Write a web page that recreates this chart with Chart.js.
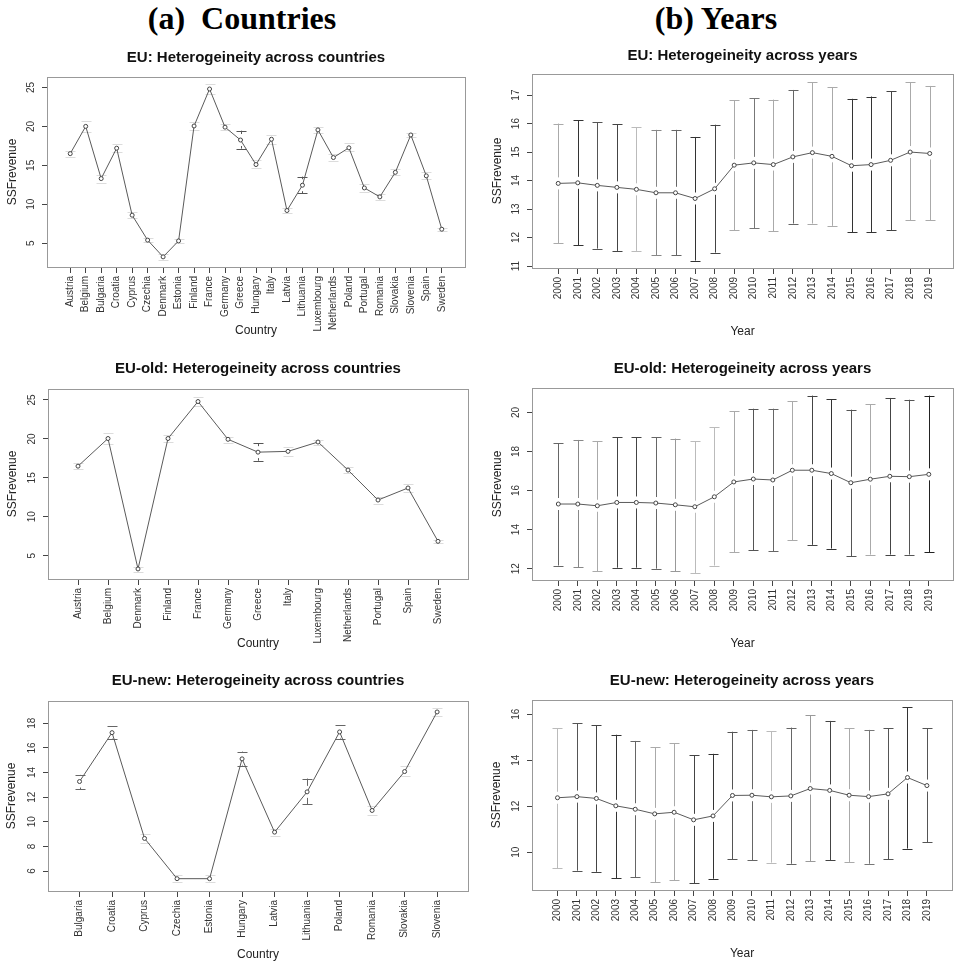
<!DOCTYPE html>
<html lang="en">
<head>
  <meta charset="UTF-8">
  <title>SSFrevenue heterogeneity</title>
  <script src="https://cdn.jsdelivr.net/npm/chart.js"></script>
  <style>
    body {
      margin: 0;
      background: #ffffff;
      width: 958px;
      height: 964px;
      position: relative;
      overflow: hidden;
    }
    .head {
      position: absolute;
      top: -1px;
      width: 300px;
      text-align: center;
      font-family: "Liberation Serif", "Times New Roman", serif;
      font-weight: bold;
      font-size: 32px;
      line-height: 38px;
      color: #000;
      white-space: pre;
    }
    canvas {
      position: absolute;
    }
  </style>
</head>
<body>
  <div class="head" style="left:92px">(a)  Countries</div>
  <div class="head" style="left:566px">(b) Years</div>

  <canvas id="c1"></canvas>
  <canvas id="c2"></canvas>
  <canvas id="c3"></canvas>
  <canvas id="c4"></canvas>
  <canvas id="c5"></canvas>
  <canvas id="c6"></canvas>

  <script>
    // ---- data ----
    const years = ['2000', '2001', '2002', '2003', '2004', '2005', '2006', '2007', '2008', '2009',
                   '2010', '2011', '2012', '2013', '2014', '2015', '2016', '2017', '2018', '2019'];

    const euCountries = ['Austria', 'Belgium', 'Bulgaria', 'Croatia', 'Cyprus', 'Czechia', 'Denmark', 'Estonia',
                         'Finland', 'France', 'Germany', 'Greece', 'Hungary', 'Italy', 'Latvia', 'Lithuania',
                         'Luxembourg', 'Netherlands', 'Poland', 'Portugal', 'Romania', 'Slovakia', 'Slovenia', 'Spain', 'Sweden'];
    const euCountryMean = [16.5, 20.0, 13.3, 17.2, 8.6, 5.4, 3.25, 5.3, 20.05, 24.8, 19.9, 18.25, 15.1,
                           18.35, 9.2, 12.45, 19.55, 16.0, 17.25, 12.1, 10.95, 14.1, 18.9, 13.65, 6.8];
    const euCountryLo = [16.1, 19.3, 12.7, 16.7, 8.2, 5.1, 2.9, 5.0, 19.6, 24.2, 19.5, 17.15, 14.6,
                         17.8, 8.9, 11.4, 19.2, 15.6, 16.8, 11.6, 10.6, 13.7, 18.6, 13.2, 6.6];
    const euCountryHi = [16.9, 20.7, 13.8, 17.8, 9.0, 5.7, 3.6, 5.6, 20.5, 25.4, 20.3, 19.45, 15.7,
                         18.9, 9.5, 13.55, 19.9, 16.4, 17.9, 12.6, 11.3, 14.5, 19.2, 14.1, 7.0];

    const euYearMean = [13.9, 13.92, 13.83, 13.76, 13.69, 13.57, 13.57, 13.37, 13.71, 14.54,
                        14.62, 14.56, 14.83, 14.98, 14.85, 14.52, 14.56, 14.71, 15.0, 14.95];
    const euYearLo = [11.8, 11.73, 11.61, 11.53, 11.53, 11.38, 11.38, 11.19, 11.47, 12.25,
                      12.32, 12.22, 12.49, 12.49, 12.41, 12.19, 12.18, 12.25, 12.6, 12.6];
    const euYearHi = [16.0, 16.11, 16.05, 15.98, 15.87, 15.78, 15.78, 15.53, 15.96, 16.81,
                      16.89, 16.84, 17.18, 17.45, 17.27, 16.87, 16.95, 17.13, 17.45, 17.32];

    const oldCountries = ['Austria', 'Belgium', 'Denmark', 'Finland', 'France', 'Germany', 'Greece',
                          'Italy', 'Luxembourg', 'Netherlands', 'Portugal', 'Spain', 'Sweden'];
    const oldCountryMean = [16.5, 20.05, 3.3, 20.05, 24.8, 19.95, 18.3, 18.4, 19.6, 16.0, 12.15, 13.7, 6.85];
    const oldCountryLo = [16.1, 19.4, 2.9, 19.6, 24.2, 19.5, 17.2, 17.8, 19.2, 15.6, 11.6, 13.2, 6.6];
    const oldCountryHi = [16.9, 20.7, 3.6, 20.5, 25.4, 20.3, 19.45, 18.9, 19.9, 16.4, 12.6, 14.2, 7.0];

    const oldYearMean = [15.31, 15.31, 15.22, 15.39, 15.39, 15.36, 15.27, 15.17, 15.68, 16.44,
                         16.59, 16.54, 17.04, 17.04, 16.87, 16.4, 16.58, 16.73, 16.71, 16.83];
    const oldYearLo = [12.16, 12.07, 11.88, 12.05, 12.05, 12.0, 11.88, 11.78, 12.16, 12.84,
                       12.95, 12.88, 13.46, 13.22, 13.03, 12.64, 12.72, 12.72, 12.72, 12.84];
    const oldYearHi = [18.42, 18.59, 18.53, 18.72, 18.72, 18.72, 18.66, 18.53, 19.25, 20.07,
                       20.19, 20.19, 20.58, 20.86, 20.68, 20.14, 20.41, 20.74, 20.65, 20.86];

    const newCountries = ['Bulgaria', 'Croatia', 'Cyprus', 'Czechia', 'Estonia', 'Hungary',
                          'Latvia', 'Lithuania', 'Poland', 'Romania', 'Slovakia', 'Slovenia'];
    const newCountryMean = [13.27, 17.24, 8.65, 5.38, 5.38, 15.11, 9.16, 12.43, 17.3, 10.92, 14.08, 18.92];
    const newCountryLo = [12.65, 16.7, 8.3, 5.1, 5.1, 14.57, 8.85, 11.43, 16.76, 10.55, 13.7, 18.6];
    const newCountryHi = [13.81, 17.76, 9.0, 5.65, 5.65, 15.7, 9.45, 13.51, 17.86, 11.3, 14.5, 19.25];

    const newYearMean = [12.37, 12.42, 12.34, 12.02, 11.87, 11.67, 11.74, 11.41, 11.58, 12.47,
                         12.48, 12.41, 12.45, 12.77, 12.69, 12.48, 12.42, 12.54, 13.25, 12.9];
    const newYearLo = [9.31, 9.2, 9.15, 8.88, 8.92, 8.7, 8.78, 8.66, 8.85, 9.69,
                       9.65, 9.55, 9.5, 9.6, 9.65, 9.58, 9.5, 9.69, 10.16, 10.43];
    const newYearHi = [15.4, 15.62, 15.52, 15.11, 14.84, 14.56, 14.74, 14.21, 14.28, 15.24,
                       15.32, 15.27, 15.42, 15.96, 15.71, 15.4, 15.32, 15.39, 16.31, 15.4];

    // y tick labels per panel
    const euCountryTicks = [5, 10, 15, 20, 25];
    const euYearTicks = [11, 12, 13, 14, 15, 16, 17];
    const oldCountryTicks = [5, 10, 15, 20, 25];
    const oldYearTicks = [12, 14, 16, 18, 20];
    const newCountryTicks = [6, 8, 10, 12, 14, 16, 18];
    const newYearTicks = [10, 12, 14, 16];

    // grey shade of each error bar (the scanned figure renders them unevenly)
    const euYearShade = ['#aaa', '#333', '#555', '#444', '#bbb', '#888', '#666', '#333', '#444', '#aaa',
                         '#777', '#aaa', '#666', '#aaa', '#aaa', '#333', '#333', '#444', '#aaa', '#aaa'];
    const oldYearShade = ['#666', '#888', '#aaa', '#444', '#444', '#666', '#999', '#bbb', '#bbb', '#aaa',
                          '#555', '#666', '#aaa', '#444', '#333', '#555', '#aaa', '#444', '#555', '#222'];
    const newYearShade = ['#bbb', '#555', '#444', '#333', '#666', '#aaa', '#aaa', '#444', '#333', '#555',
                          '#666', '#bbb', '#666', '#999', '#444', '#aaa', '#777', '#555', '#333', '#555'];

    const FONT = "'Liberation Sans', Arial, sans-serif";
    const FAINT = '#dcdcdc';

    // error bars with a gap around the mean, like gplots::plotmeans
    function errorBars(lo, hi, shade) {
      return {
        id: 'errorBars',
        beforeDatasetsDraw(chart) {
          const xs = chart.scales.x, ys = chart.scales.y, ctx = chart.ctx;
          const mean = chart.data.datasets[0].data;
          ctx.save();
          ctx.lineWidth = 1;
          lo.forEach((l, i) => {
            const x = Math.round(xs.getPixelForValue(i)) + 0.5;
            const yl = ys.getPixelForValue(l);
            const yh = ys.getPixelForValue(hi[i]);
            const ym = ys.getPixelForValue(mean[i].y);
            const gap = 6;
            ctx.strokeStyle = shade(i);
            ctx.beginPath();
            if (ym - gap > yh) { ctx.moveTo(x, yh); ctx.lineTo(x, ym - gap); }
            if (ym + gap < yl) { ctx.moveTo(x, ym + gap); ctx.lineTo(x, yl); }
            ctx.moveTo(x - 5, Math.round(yh) + 0.5); ctx.lineTo(x + 5, Math.round(yh) + 0.5);
            ctx.moveTo(x - 5, Math.round(yl) + 0.5); ctx.lineTo(x + 5, Math.round(yl) + 0.5);
            ctx.stroke();
          });
          ctx.restore();
        }
      };
    }

    const frame = {
      id: 'frame',
      afterDraw(chart) {
        const a = chart.chartArea, ctx = chart.ctx;
        ctx.save();
        ctx.strokeStyle = '#999';
        ctx.lineWidth = 1;
        ctx.strokeRect(Math.round(a.left) + 0.5, Math.round(a.top) + 0.5,
                       Math.round(a.right - a.left), Math.round(a.bottom - a.top));
        ctx.restore();
      }
    };

    function panel(p) {
      const cv = document.getElementById(p.id);
      cv.width = p.cw; cv.height = p.ch;
      cv.style.left = p.cx + 'px'; cv.style.top = p.cy + 'px';

      new Chart(cv, {
        type: 'line',
        data: {
          datasets: [{
            data: p.mean.map((v, i) => ({ x: i, y: v })),
            borderColor: '#5a5a5a',
            borderWidth: 1,
            pointRadius: 2,
            pointBorderColor: '#444',
            pointBackgroundColor: '#fff',
            pointBorderWidth: 1,
            tension: 0
          }]
        },
        options: {
          responsive: false,
          animation: false,
          layout: { padding: { left: 0, top: 0, bottom: 0, right: p.cx + p.cw - p.box.r } },
          plugins: {
            legend: { display: false },
            tooltip: { enabled: false },
            title: {
              display: true,
              text: p.title,
              fullSize: false,
              color: '#111',
              font: { family: FONT, size: 15, weight: 'bold' },
              padding: { top: p.titleY - p.cy - 9, bottom: p.box.t - p.titleY - 9 }
            }
          },
          scales: {
            x: {
              type: 'linear',
              min: p.xMin,
              max: p.xMax,
              afterBuildTicks: s => { s.ticks = p.labels.map((_, i) => ({ value: i })); },
              afterFit: s => { s.height = p.cy + p.ch - p.box.b; },
              border: { display: false },
              grid: { drawOnChartArea: false, drawTicks: true, tickLength: 6, tickColor: '#444' },
              ticks: {
                autoSkip: false,
                minRotation: 90,
                maxRotation: 90,
                padding: 3,
                color: '#333',
                font: { family: FONT, size: 10 },
                callback: v => p.labels[v]
              },
              title: {
                display: true,
                text: p.xTitle,
                color: '#222',
                font: { family: FONT, size: 12 },
                padding: { top: 0, bottom: p.cy + p.ch - p.xTitleY - 7.2 }
              }
            },
            y: {
              min: p.yMin,
              max: p.yMax,
              afterBuildTicks: s => { s.ticks = p.yTicks.map(v => ({ value: v })); },
              afterFit: s => { s.width = p.box.l - p.cx; },
              border: { display: false },
              grid: { drawOnChartArea: false, drawTicks: true, tickLength: 5, tickColor: '#444' },
              ticks: {
                minRotation: 90,
                maxRotation: 90,
                crossAlign: 'center',
                padding: 5,
                color: '#333',
                font: { family: FONT, size: 10 }
              },
              title: {
                display: true,
                text: 'SSFrevenue',
                color: '#222',
                font: { family: FONT, size: 12 },
                padding: { top: p.yTitleX - p.cx - 7.2, bottom: 0 }
              }
            }
          }
        },
        plugins: [errorBars(p.lo, p.hi, p.shade), frame]
      });
    }

    panel({
      id: 'c1', cx: 0, cy: 36, cw: 480, ch: 304,
      box: { l: 47, t: 77, r: 465, b: 267 }, titleY: 58.3, yTitleX: 12.3, xTitleY: 330.3,
      title: 'EU: Heterogeineity across countries', xTitle: 'Country',
      labels: euCountries, mean: euCountryMean, lo: euCountryLo, hi: euCountryHi,
      shade: i => (i === 11 || i === 15) ? '#555' : FAINT,
      xMin: -1.5, xMax: 25.5, yMin: 1.95, yMax: 26.34, yTicks: euCountryTicks
    });

    panel({
      id: 'c2', cx: 480, cy: 36, cw: 478, ch: 304,
      box: { l: 532, t: 74, r: 955, b: 268 }, titleY: 55.7, yTitleX: 497.3, xTitleY: 332,
      title: 'EU: Heterogeineity across years', xTitle: 'Year',
      labels: years, mean: euYearMean, lo: euYearLo, hi: euYearHi,
      shade: i => euYearShade[i],
      xMin: -1.34, xMax: 20.19, yMin: 10.93, yMax: 17.74, yTicks: euYearTicks
    });

    panel({
      id: 'c3', cx: 0, cy: 340, cw: 480, ch: 312,
      box: { l: 48, t: 389, r: 468, b: 579 }, titleY: 369.3, yTitleX: 12.3, xTitleY: 643.3,
      title: 'EU-old: Heterogeineity across countries', xTitle: 'Country',
      labels: oldCountries, mean: oldCountryMean, lo: oldCountryLo, hi: oldCountryHi,
      shade: i => i === 6 ? '#555' : FAINT,
      xMin: -1, xMax: 13, yMin: 2.01, yMax: 26.41, yTicks: oldCountryTicks
    });

    panel({
      id: 'c4', cx: 480, cy: 340, cw: 478, ch: 312,
      box: { l: 532, t: 388, r: 954, b: 580 }, titleY: 369.3, yTitleX: 497.3, xTitleY: 644,
      title: 'EU-old: Heterogeineity across years', xTitle: 'Year',
      labels: years, mean: oldYearMean, lo: oldYearLo, hi: oldYearHi,
      shade: i => oldYearShade[i],
      xMin: -1.35, xMax: 20.24, yMin: 11.42, yMax: 21.25, yTicks: oldYearTicks
    });

    panel({
      id: 'c5', cx: 0, cy: 652, cw: 480, ch: 312,
      box: { l: 48, t: 701, r: 468, b: 891 }, titleY: 681.3, yTitleX: 11.7, xTitleY: 955,
      title: 'EU-new: Heterogeineity across countries', xTitle: 'Country',
      labels: newCountries, mean: newCountryMean, lo: newCountryLo, hi: newCountryHi,
      shade: i => [0, 1, 5, 7, 8].includes(i) ? '#666' : FAINT,
      xMin: -0.97, xMax: 11.95, yMin: 4.38, yMax: 19.81, yTicks: newCountryTicks
    });

    panel({
      id: 'c6', cx: 480, cy: 652, cw: 478, ch: 312,
      box: { l: 532, t: 700, r: 952, b: 890 }, titleY: 681.3, yTitleX: 497, xTitleY: 954,
      title: 'EU-new: Heterogeineity across years', xTitle: 'Year',
      labels: years, mean: newYearMean, lo: newYearLo, hi: newYearHi,
      shade: i => newYearShade[i],
      xMin: -1.31, xMax: 20.29, yMin: 8.36, yMax: 16.62, yTicks: newYearTicks
    });
  </script>
</body>
</html>
